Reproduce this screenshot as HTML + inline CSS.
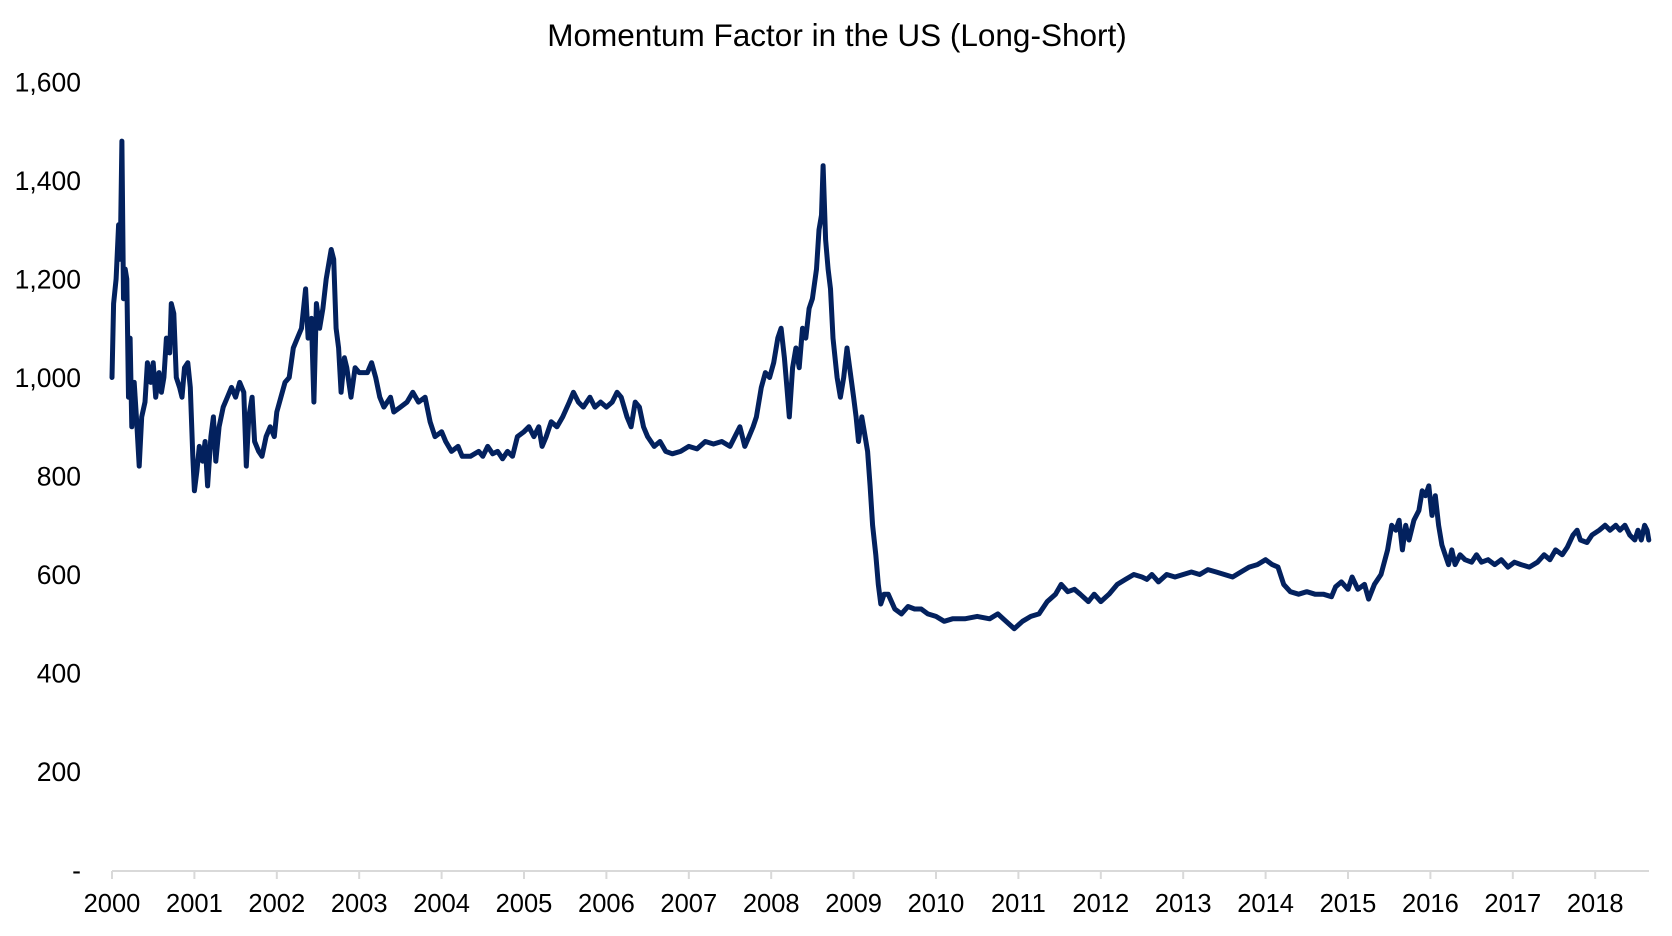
<!DOCTYPE html>
<html><head><meta charset="utf-8"><style>
html,body{margin:0;padding:0;background:#fff;}
svg text{font-family:"Liberation Sans",Arial,sans-serif;fill:#000;}
</style></head><body>
<svg id="chart" width="1672" height="931" viewBox="0 0 1672 931" xmlns="http://www.w3.org/2000/svg">
<text x="837" y="46" font-size="31.5" text-anchor="middle">Momentum Factor in the US (Long-Short)</text>
<g id="yaxis"></g>
<g id="xaxis"></g>
<path id="series" fill="none" stroke="#03215e" stroke-width="5" stroke-linejoin="round" stroke-linecap="round"/>
</svg>
<script>
const yTicks=[0,200,400,600,800,1000,1200,1400,1600];
const yTickLabels=["-","200","400","600","800","1,000","1,200","1,400","1,600"];
const xTicks=[2000,2001,2002,2003,2004,2005,2006,2007,2008,2009,2010,2011,2012,2013,2014,2015,2016,2017,2018];
const dates=[2000.0,2000.02,2000.05,2000.08,2000.1,2000.12,2000.14,2000.16,2000.18,2000.2,2000.22,2000.24,2000.27,2000.3,2000.33,2000.36,2000.4,2000.43,2000.47,2000.5,2000.53,2000.57,2000.6,2000.63,2000.66,2000.7,2000.72,2000.75,2000.78,2000.82,2000.85,2000.88,2000.92,2000.95,2000.98,2001.0,2001.03,2001.06,2001.1,2001.13,2001.16,2001.2,2001.23,2001.26,2001.3,2001.35,2001.4,2001.45,2001.5,2001.55,2001.6,2001.63,2001.66,2001.7,2001.73,2001.78,2001.82,2001.87,2001.92,2001.97,2002.0,2002.05,2002.1,2002.15,2002.2,2002.25,2002.3,2002.35,2002.38,2002.42,2002.45,2002.48,2002.52,2002.56,2002.6,2002.63,2002.66,2002.69,2002.72,2002.75,2002.78,2002.82,2002.85,2002.9,2002.95,2003.0,2003.1,2003.15,2003.2,2003.25,2003.3,2003.38,2003.42,2003.5,2003.58,2003.65,2003.72,2003.8,2003.86,2003.92,2004.0,2004.05,2004.12,2004.2,2004.25,2004.35,2004.45,2004.5,2004.56,2004.62,2004.68,2004.74,2004.8,2004.86,2004.92,2005.0,2005.06,2005.12,2005.18,2005.22,2005.27,2005.33,2005.4,2005.47,2005.55,2005.6,2005.66,2005.72,2005.8,2005.86,2005.93,2006.0,2006.07,2006.13,2006.18,2006.25,2006.3,2006.35,2006.4,2006.45,2006.5,2006.58,2006.65,2006.72,2006.8,2006.9,2007.0,2007.1,2007.2,2007.3,2007.4,2007.5,2007.56,2007.62,2007.68,2007.73,2007.78,2007.82,2007.88,2007.93,2007.98,2008.03,2008.08,2008.12,2008.16,2008.19,2008.22,2008.26,2008.3,2008.34,2008.38,2008.42,2008.46,2008.5,2008.55,2008.58,2008.61,2008.63,2008.66,2008.69,2008.72,2008.75,2008.8,2008.84,2008.88,2008.92,2008.96,2009.0,2009.03,2009.06,2009.1,2009.13,2009.17,2009.2,2009.23,2009.27,2009.3,2009.33,2009.37,2009.42,2009.5,2009.58,2009.66,2009.74,2009.82,2009.9,2010.0,2010.1,2010.2,2010.35,2010.5,2010.65,2010.75,2010.85,2010.95,2011.05,2011.15,2011.25,2011.35,2011.45,2011.52,2011.6,2011.68,2011.75,2011.85,2011.92,2012.0,2012.1,2012.2,2012.3,2012.4,2012.5,2012.56,2012.62,2012.7,2012.8,2012.9,2013.0,2013.1,2013.2,2013.3,2013.4,2013.5,2013.6,2013.7,2013.8,2013.9,2014.0,2014.08,2014.15,2014.22,2014.3,2014.4,2014.5,2014.6,2014.7,2014.8,2014.85,2014.92,2015.0,2015.05,2015.12,2015.2,2015.25,2015.32,2015.4,2015.48,2015.53,2015.58,2015.62,2015.66,2015.7,2015.74,2015.8,2015.86,2015.9,2015.94,2015.98,2016.02,2016.06,2016.1,2016.14,2016.18,2016.22,2016.26,2016.3,2016.36,2016.42,2016.5,2016.56,2016.62,2016.7,2016.78,2016.86,2016.94,2017.02,2017.1,2017.2,2017.3,2017.38,2017.45,2017.52,2017.6,2017.66,2017.73,2017.78,2017.82,2017.9,2017.96,2018.05,2018.12,2018.18,2018.25,2018.3,2018.36,2018.42,2018.48,2018.52,2018.56,2018.6,2018.63,2018.65];
const values=[1000,1150,1200,1310,1240,1480,1160,1220,1200,960,1080,900,990,910,820,920,950,1030,990,1030,960,1010,970,1000,1080,1050,1150,1130,1000,980,960,1020,1030,980,840,770,810,860,830,870,780,880,920,830,900,940,960,980,960,990,970,820,920,960,870,850,840,880,900,880,930,960,990,1000,1060,1080,1100,1180,1080,1120,950,1150,1100,1140,1200,1230,1260,1240,1100,1060,970,1040,1020,960,1020,1010,1010,1030,1000,960,940,960,930,940,950,970,950,960,910,880,890,870,850,860,840,840,850,840,860,845,850,835,850,840,880,890,900,880,900,860,880,910,900,920,950,970,950,940,960,940,950,940,950,970,960,920,900,950,940,900,880,860,870,850,845,850,860,855,870,865,870,860,880,900,860,880,900,920,980,1010,1000,1030,1080,1100,1040,980,920,1020,1060,1020,1100,1080,1140,1160,1220,1300,1330,1430,1280,1220,1180,1080,1000,960,1000,1060,1010,960,920,870,920,890,850,780,700,640,580,540,560,560,530,520,535,530,530,520,515,505,510,510,515,510,520,505,490,505,515,520,545,560,580,565,570,560,545,560,545,560,580,590,600,595,590,600,585,600,595,600,605,600,610,605,600,595,605,615,620,630,620,615,580,565,560,565,560,560,555,575,585,570,595,570,580,550,580,600,650,700,690,710,650,700,670,710,730,770,760,780,720,760,700,660,640,620,650,620,640,630,625,640,625,630,620,630,615,625,620,615,625,640,630,650,640,655,680,690,670,665,680,690,700,690,700,690,700,680,670,690,670,700,690,670];

const NS="http://www.w3.org/2000/svg";
const X0=112, PX_PER_YEAR=82.4, Y0=870, PX_PER_UNIT=788/1600;
function xScale(t){return X0+(t-2000)*PX_PER_YEAR;}
function yScale(v){return Y0-v*PX_PER_UNIT;}

const yg=document.getElementById('yaxis');
yTicks.forEach((v,i)=>{
  const t=document.createElementNS(NS,'text');
  
  
  t.setAttribute('x',81);t.setAttribute('y',yScale(v)+9.5);
  t.setAttribute('font-size','26.5');t.setAttribute('text-anchor','end');
  t.textContent=yTickLabels[i];yg.appendChild(t);
});
const xg=document.getElementById('xaxis');
const base=document.createElementNS(NS,'line');


base.setAttribute('x1',X0);base.setAttribute('x2',1649);base.setAttribute('y1',871);base.setAttribute('y2',871);
base.setAttribute('stroke','#d9d9d9');base.setAttribute('stroke-width','2');xg.appendChild(base);
xTicks.forEach(yr=>{
  const x=xScale(yr);
  const tk=document.createElementNS(NS,'line');
  
  
  tk.setAttribute('x1',x);tk.setAttribute('x2',x);tk.setAttribute('y1',871);tk.setAttribute('y2',879);
  tk.setAttribute('stroke','#d9d9d9');tk.setAttribute('stroke-width','2');xg.appendChild(tk);
  const t=document.createElementNS(NS,'text');
  
  
  t.setAttribute('x',x);t.setAttribute('y',912);t.setAttribute('font-size','25.5');t.setAttribute('text-anchor','middle');
  t.textContent=String(yr);xg.appendChild(t);
});
let d='';
dates.forEach((t,i)=>{d+=(i?'L':'M')+xScale(t).toFixed(1)+','+yScale(values[i]).toFixed(1);});
document.getElementById('series').setAttribute('d',d);
</script>
</body></html>
